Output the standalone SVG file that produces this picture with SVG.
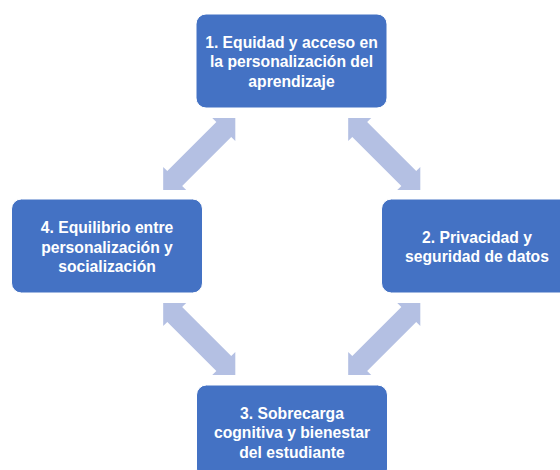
<svg xmlns="http://www.w3.org/2000/svg" width="560" height="470" viewBox="0 0 560 470">
  <style>
    .box { fill: #4472C4; stroke: #ffffff; stroke-width: 1; }
    .lbl { fill: #ffffff; font-family: "Liberation Sans", Arial, sans-serif; font-weight: bold; font-size: 15.7px; text-anchor: middle; }
    .arr { fill: #B4C0E3; }
  </style>
  <defs>
    <polygon id="dblArrow" points="-51,0 -34.7,-16.3 -34.7,-10.5 34.7,-10.5 34.7,-16.3 51,0 34.7,16.3 34.7,10.5 -34.7,10.5 -34.7,16.3"/>
  </defs>
  <rect width="560" height="470" fill="#ffffff"/>
  <g id="connectors">
    <use href="#dblArrow" class="arr" transform="translate(199.25,154) rotate(-45)"/>
    <use href="#dblArrow" class="arr" transform="translate(384.25,154) rotate(45)"/>
    <use href="#dblArrow" class="arr" transform="translate(199.25,339) rotate(45)"/>
    <use href="#dblArrow" class="arr" transform="translate(384.25,339) rotate(-45)"/>
  </g>
  <g id="node1">
    <rect class="box" x="196" y="14" width="191" height="94" rx="10"/>
    <text class="lbl" x="291.5" y="47.5">1. Equidad y acceso en</text>
    <text class="lbl" x="291.5" y="67">la personalización del</text>
    <text class="lbl" x="291.5" y="86.5">aprendizaje</text>
  </g>
  <g id="node2">
    <rect class="box" x="381.5" y="199" width="191" height="94" rx="10"/>
    <text class="lbl" x="477" y="242.75">2. Privacidad y</text>
    <text class="lbl" x="477" y="262.25">seguridad de datos</text>
  </g>
  <g id="node3">
    <rect class="box" x="196.5" y="385" width="191" height="94" rx="10"/>
    <text class="lbl" x="292" y="418.5">3. Sobrecarga</text>
    <text class="lbl" x="292" y="438">cognitiva y bienestar</text>
    <text class="lbl" x="292" y="457.5">del estudiante</text>
  </g>
  <g id="node4">
    <rect class="box" x="11.5" y="199" width="191" height="94" rx="10"/>
    <text class="lbl" x="107" y="233">4. Equilibrio entre</text>
    <text class="lbl" x="107" y="252.5">personalización y</text>
    <text class="lbl" x="107" y="272">socialización</text>
  </g>
</svg>
